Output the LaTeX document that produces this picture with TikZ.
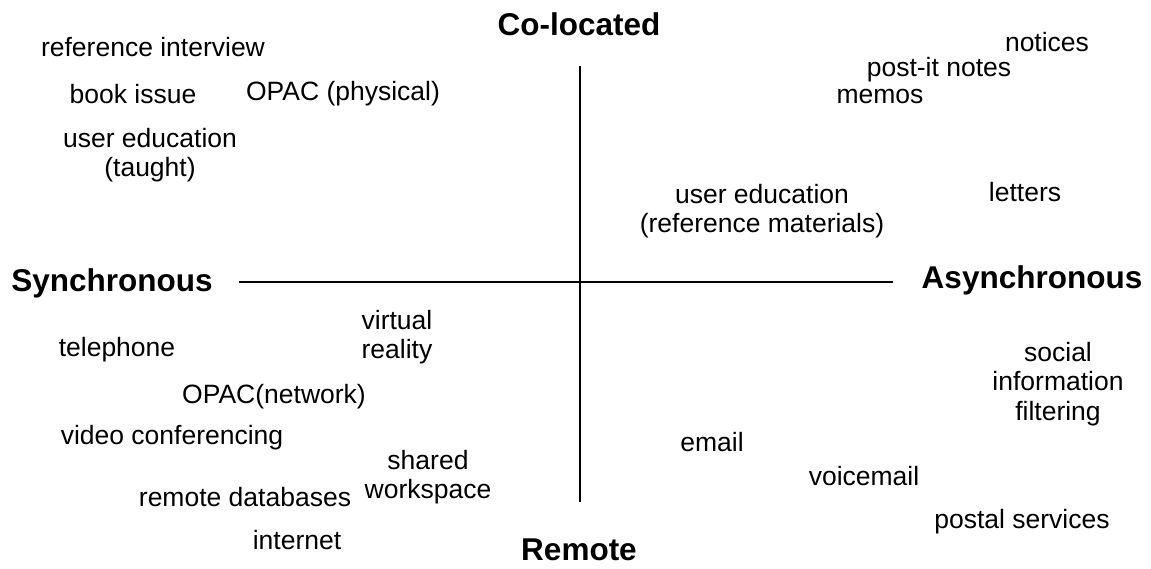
\documentclass[tikz,border=0pt]{standalone}
\usepackage{fontspec}
\setmainfont{Liberation Sans}
\begin{document}
\begin{tikzpicture}[x=1pt,y=-1pt,
  item/.style={align=center,inner sep=0pt,font=\fontsize{26.5}{29.5}\selectfont},
  axislabel/.style={inner sep=0pt,font=\fontsize{31.5}{36}\selectfont\bfseries},
  axis/.style={line width=2pt}]
\useasboundingbox (0,0) rectangle (1151,569);
% axis labels
\node[axislabel] (top) at (579,24) {Co-located};
\node[axislabel] (bottom) at (579,550) {Remote};
\node[axislabel] (left) at (112,283) {Synchronous};
\node[axislabel] (right) at (1032,280) {Asynchronous};
\coordinate (h1) at (239,282);
\coordinate (h2) at (893,282);
\coordinate (v1) at (580,66);
\coordinate (v2) at (580,502);
\draw[axis] (h1) -- (h2);
\draw[axis] (v1) -- (v2);
% items
\node[item] (refint) at (153,47) {reference interview};
\node[item] (book) at (133,94) {book issue};
\node[item] (opacp) at (343,94) {OPAC (physical)};
\node[item] (uetaught) at (150,155) {user education\\(taught)};
\node[item] (notices) at (1047,42) {notices};
\node[item] (postit) at (939,70) {post-it notes};
\node[item] (memos) at (880,97) {memos};
\node[item] (letters) at (1025,192) {letters};
\node[item] (ueref) at (762,211) {user education\\(reference materials)};
\node[item] (vr) at (397,337) {virtual\\reality};
\node[item] (tel) at (117,350) {telephone};
\node[item] (opacn) at (274,397) {OPAC(network)};
\node[item] (video) at (172,438) {video conferencing};
\node[item] (shared) at (428,477) {shared\\workspace};
\node[item] (remdb) at (245,497) {remote databases};
\node[item] (inet) at (297,540) {internet};
\node[item] (email) at (712,442) {email};
\node[item] (social) at (1058,384) {social\\information\\filtering};
\node[item] (voice) at (864,476) {voicemail};
\node[item] (postal) at (1022,522) {postal services};
\end{tikzpicture}
\end{document}
